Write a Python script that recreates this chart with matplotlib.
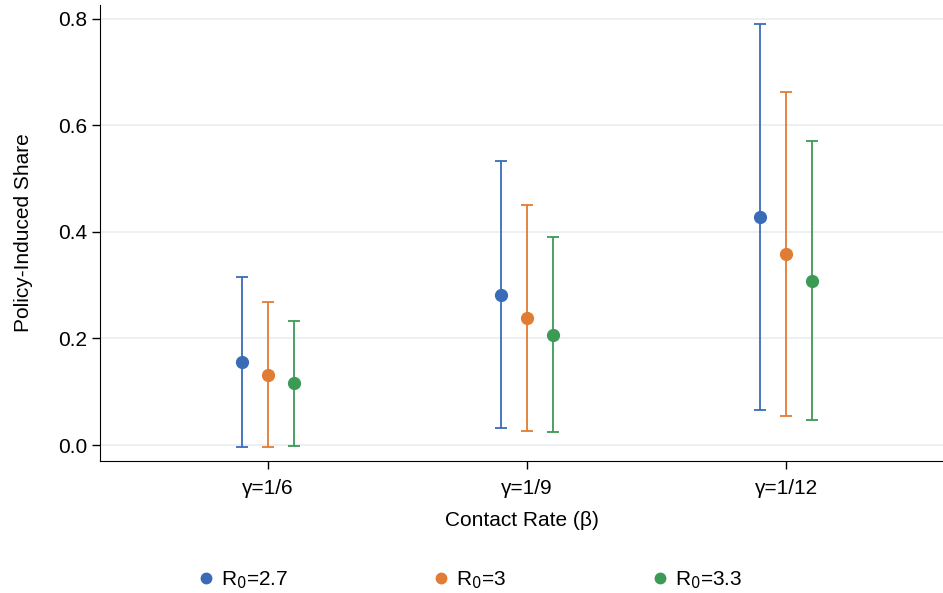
import matplotlib.pyplot as plt
from matplotlib.lines import Line2D

plt.rcParams['font.family'] = ['Liberation Sans', 'DejaVu Sans']

# groups on the x axis
groups = ['γ=1/6', 'γ=1/9', 'γ=1/12']
series = ['R$_0$=2.7', 'R$_0$=3', 'R$_0$=3.3']
colors = ['#3A6BB6', '#E07C33', '#3B9A55']

# point estimates and confidence bounds, one list per series
est = [[0.156, 0.282, 0.428],
       [0.131, 0.239, 0.359],
       [0.116, 0.207, 0.308]]
upper = [[0.315, 0.533, 0.791],
         [0.269, 0.451, 0.663],
         [0.233, 0.391, 0.571]]
lower = [[-0.004, 0.032, 0.066],
         [-0.004, 0.026, 0.054],
         [-0.002, 0.024, 0.047]]

fig = plt.figure(figsize=(9.43, 5.93), dpi=100)
ax = fig.add_axes([0.106, 0.2226, 0.894, 0.769])

offsets = [-0.1, 0.0, 0.1]
handles = []
for i in range(3):
    x = [g + 1 + offsets[i] for g in range(len(groups))]
    err = [[e - lo for e, lo in zip(est[i], lower[i])],
           [up - e for e, up in zip(est[i], upper[i])]]
    ax.errorbar(x, est[i], yerr=err, fmt='o', color=colors[i], ms=8.5,
                elinewidth=1.3, capsize=4.2, capthick=1.3)
    handles.append(Line2D([], [], marker='o', ls='none', color=colors[i],
                          ms=7.5, label=series[i]))

ax.set_xlim(0.351, 3.606)
ax.set_ylim(-0.030, 0.826)
ax.set_xticks([1, 2, 3])
ax.set_xticklabels(groups)
ax.set_yticks([0.0, 0.2, 0.4, 0.6, 0.8])
ax.set_yticklabels(['0.0', '0.2', '0.4', '0.6', '0.8'])
ax.tick_params(labelsize=15, length=6, width=1, direction='out')
ax.tick_params(axis='x', pad=7)
ax.tick_params(axis='y', pad=3)
ax.grid(axis='y', color='#E8EFF2', linewidth=1.3)
ax.set_axisbelow(True)
for s in ['top', 'right']:
    ax.spines[s].set_visible(False)

ax.set_ylabel('Policy-Induced Share', fontsize=15, labelpad=18)
ax.set_xlabel('Contact Rate (β)', fontsize=15, labelpad=9)

fig.legend(handles=handles, loc='lower center', bbox_to_anchor=(0.497, -0.028),
           ncol=3, frameon=False, fontsize=15, columnspacing=6.85,
           handletextpad=0.22, handlelength=1.0)

plt.savefig('out.png')
